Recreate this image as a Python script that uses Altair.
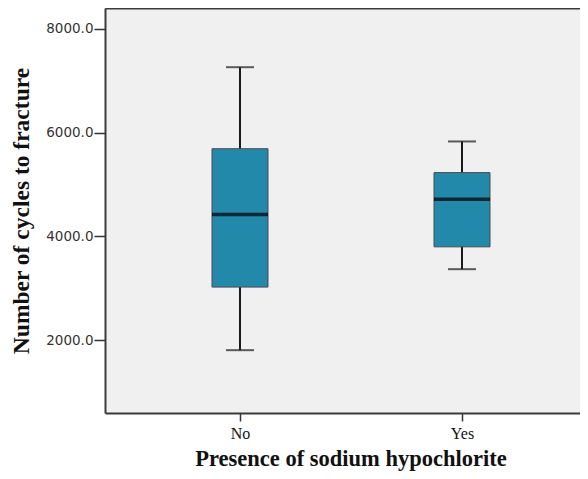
import altair as alt
import pandas as pd

groups = ["No", "Yes"]
whisker_low = [1810, 3370]
q1 = [3025, 3800]
median = [4425, 4715]
q3 = [5690, 5230]
whisker_high = [7260, 5830]

df = pd.DataFrame({
    "group": groups,
    "lo": whisker_low,
    "q1": q1,
    "med": median,
    "q3": q3,
    "hi": whisker_high,
})

XTITLE = "Presence of sodium hypochlorite"
YTITLE = "Number of cycles to fracture"
FRAME = "#3a3a3a"

x_axis = alt.Axis(labelAngle=0, domain=True, domainColor=FRAME, domainWidth=2, grid=False,
                  tickSize=8, tickColor="#333", tickWidth=1.5,
                  labelFont="Liberation Serif", labelFontSize=16,
                  labelColor="#111", labelPadding=4, titleFont="Liberation Serif",
                  titleFontSize=22.5, titleFontWeight="bold", titleColor="#111",
                  titlePadding=6, titleX=245.5)
x_top = alt.Axis(orient="top", domain=True, domainColor=FRAME, domainWidth=2, grid=False,
                 labels=False, ticks=False, title=None)
y_axis = alt.Axis(values=[2000, 4000, 6000, 8000], format=".1f", grid=False,
                  domain=True, domainColor=FRAME, domainWidth=2,
                  tickSize=11, tickColor="#333", tickWidth=1.5, labelFont="DejaVu Sans",
                  labelFontSize=13.5, labelColor="#333", labelPadding=1,
                  titleFont="Liberation Serif", titleFontSize=23.5, titleFontWeight="bold",
                  titleColor="#111", titlePadding=12)

x_scale = alt.Scale(type="point", padding=0.5698, align=0.5336, domain=groups)
y_scale = alt.Scale(domain=[600, 8400], nice=False, zero=False)


def X(axis=None):
    return alt.X("group:N", title=XTITLE, scale=x_scale, axis=axis, sort=groups)


def Y(field):
    return alt.Y(f"{field}:Q", title=YTITLE, scale=y_scale, axis=y_axis)


base = alt.Chart(df)
whisk = base.mark_rule(color="#1a1a1a", strokeWidth=2).encode(x=X(x_axis), y=Y("lo"), y2="hi:Q")
box = base.mark_bar(size=56, color="#2389AB", stroke="#4a4a4a", strokeWidth=1).encode(
    x=X(), y=Y("q1"), y2="q3:Q")
med = base.mark_tick(size=56, thickness=3.5, color="#000").encode(x=X(), y=Y("med"))
cap_lo = base.mark_tick(size=28, thickness=2, color="#1a1a1a").encode(x=X(), y=Y("lo"))
cap_hi = base.mark_tick(size=28, thickness=2, color="#1a1a1a").encode(x=X(x_top), y=Y("hi"))

chart = alt.layer(whisk, box, med, cap_lo, cap_hi).resolve_axis(x="independent").properties(
    width=475, height=405,
    padding={"left": 97, "top": 0, "right": 0, "bottom": 58},
    autosize=alt.AutoSizeParams(type="none"),
).configure_view(fill="#F0F0F0", stroke=None)

chart.save("out.html", embed_options={"renderer": "svg", "actions": False})
